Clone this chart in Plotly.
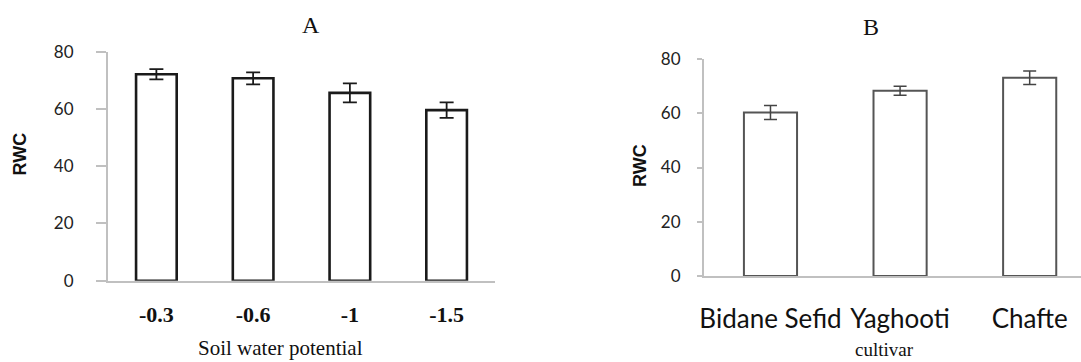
import plotly.graph_objects as go

# Panel A data
potential_labels = ["-0.3", "-0.6", "-1", "-1.5"]
rwc_a = [72.1, 70.7, 65.6, 59.6]
err_a = [1.8, 2.1, 3.3, 2.7]

# Panel B data
cultivars = ["Bidane Sefid", "Yaghooti", "Chafte"]
rwc_b = [60.3, 68.3, 73.1]
err_b = [2.6, 1.7, 2.5]

y_ticks = [0, 20, 40, 60, 80]

W, H = 1081, 362
def px_x(p):
    return p / W
def px_y(p):
    return 1 - p / H

fig = go.Figure()

fig.add_trace(go.Bar(
    x=potential_labels, y=rwc_a, xaxis="x", yaxis="y",
    width=0.42,
    marker=dict(color="white", line=dict(color="#1a1a1a", width=2.6)),
    error_y=dict(type="data", array=err_a, visible=True, color="#1a1a1a",
                 thickness=1.8, width=7),
    showlegend=False, hoverinfo="x+y",
))

fig.add_trace(go.Bar(
    x=cultivars, y=rwc_b, xaxis="x2", yaxis="y2",
    width=0.41,
    marker=dict(color="white", line=dict(color="#555555", width=2)),
    error_y=dict(type="data", array=err_b, visible=True, color="#444444",
                 thickness=1.5, width=6.5),
    showlegend=False, hoverinfo="x+y",
))

axis_gray = "#c0c0c0"
tick_font = dict(family="Lato, Carlito, sans-serif", size=17, color="#222222")

fig.update_layout(
    width=W, height=H,
    margin=dict(l=0, r=0, t=0, b=0, autoexpand=False),
    paper_bgcolor="white", plot_bgcolor="white",
    xaxis=dict(
        domain=[px_x(108), px_x(495)], anchor="y",
        type="category", range=[-0.5, 3.5],
        showline=True, linecolor=axis_gray, linewidth=2,
        showgrid=False, zeroline=False, ticks="",
        ticklabelstandoff=13, automargin=False,
        tickfont=dict(family="Liberation Serif, Times New Roman, serif", size=22,
                      color="#111111", weight="bold"),
    ),
    yaxis=dict(
        domain=[px_y(280.7), px_y(51.7)], anchor="x",
        range=[0, 80], tickvals=y_ticks,
        showline=True, linecolor=axis_gray, linewidth=2,
        showgrid=False, zeroline=False,
        ticks="outside", ticklen=10, tickcolor=axis_gray, tickwidth=1.5,
        ticklabelstandoff=19, automargin=False,
        tickfont=tick_font,
    ),
    xaxis2=dict(
        domain=[px_x(704), 1.0], anchor="y2",
        type="category", range=[-0.513, 2.396],
        showline=True, linecolor=axis_gray, linewidth=2,
        showgrid=False, zeroline=False, ticks="",
        ticklabelstandoff=19, automargin=False,
        tickfont=dict(family="Lato, Carlito, sans-serif", size=26, color="#111111"),
    ),
    yaxis2=dict(
        domain=[px_y(276), px_y(59)], anchor="x2",
        range=[0, 80], tickvals=y_ticks,
        showline=True, linecolor=axis_gray, linewidth=2,
        showgrid=False, zeroline=False,
        ticks="outside", ticklen=5, tickcolor=axis_gray, tickwidth=1.5,
        ticklabelstandoff=13, automargin=False,
        tickfont=tick_font,
    ),
)

serif = "Liberation Serif, Times New Roman, serif"
ann = [
    dict(text="A", x=px_x(311), y=px_y(25.5), font=dict(family=serif, size=24, color="#111111")),
    dict(text="B", x=px_x(870.5), y=px_y(26.5), font=dict(family=serif, size=24, color="#111111")),
    dict(text="Soil water potential", x=px_x(280), y=0.0, yanchor="bottom",
         font=dict(family=serif, size=21, color="#111111")),
    dict(text="cultivar", x=px_x(884), y=0.0, yanchor="bottom",
         font=dict(family=serif, size=19, color="#111111")),
    dict(text="RWC", x=px_x(19.5), y=px_y(154), textangle=-90,
         font=dict(family="Liberation Sans, Arial, sans-serif", size=18, color="#111111", weight="bold")),
    dict(text="RWC", x=px_x(640), y=px_y(166), textangle=-90,
         font=dict(family="Liberation Sans, Arial, sans-serif", size=18, color="#111111", weight="bold")),
]
for a in ann:
    a.setdefault("yanchor", "middle")
    a.update(xref="paper", yref="paper", showarrow=False, xanchor="center")
fig.update_layout(annotations=ann)

fig.write_html("out.html")
